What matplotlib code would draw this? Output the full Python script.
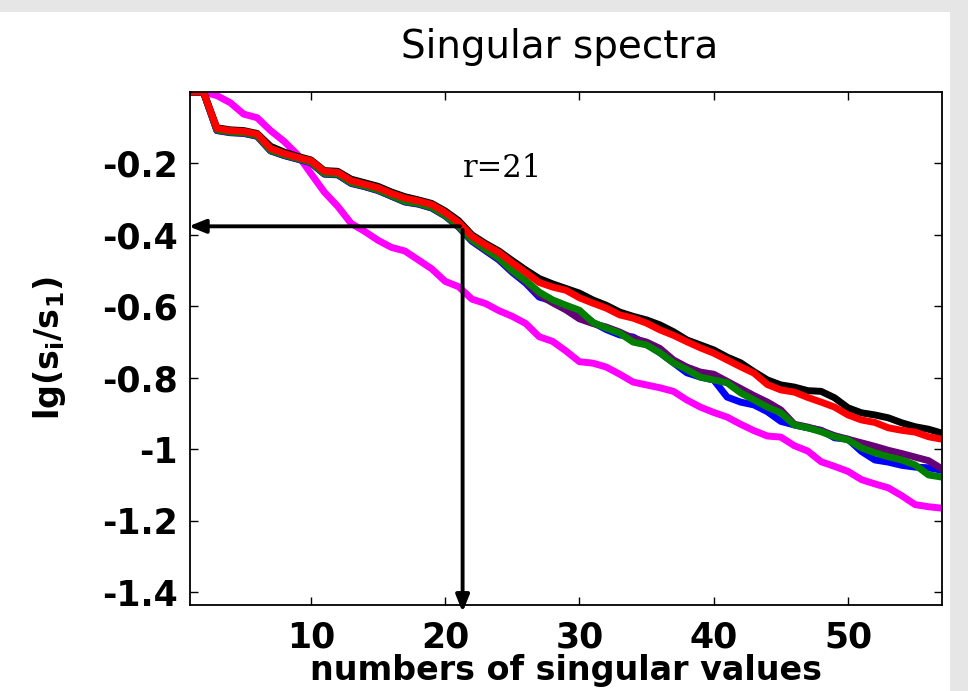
import numpy as np
import matplotlib
matplotlib.use("Agg")
import matplotlib.pyplot as plt
from matplotlib.patches import Rectangle

# singular value index
idx = np.arange(1, 58)

# lg(s_i/s_1), one list per curve
magenta = [0, 0, -0.01, -0.03, -0.062, -0.072, -0.108, -0.138, -0.175, -0.228,
           -0.28, -0.32, -0.368, -0.39, -0.415, -0.435, -0.445, -0.47, -0.495, -0.53,
           -0.545, -0.58, -0.592, -0.612, -0.628, -0.648, -0.685, -0.698, -0.725, -0.755,
           -0.759, -0.77, -0.79, -0.812, -0.82, -0.828, -0.838, -0.862, -0.882, -0.897,
           -0.91, -0.93, -0.948, -0.963, -0.966, -0.99, -1.005, -1.035, -1.048, -1.062,
           -1.085, -1.097, -1.108, -1.13, -1.155, -1.161, -1.165]
blue = [0, 0, -0.108, -0.114, -0.116, -0.124, -0.165, -0.178, -0.188, -0.198,
        -0.23, -0.232, -0.256, -0.265, -0.276, -0.292, -0.308, -0.314, -0.325, -0.347,
        -0.378, -0.418, -0.444, -0.47, -0.505, -0.535, -0.574, -0.585, -0.6, -0.615,
        -0.645, -0.665, -0.68, -0.686, -0.706, -0.73, -0.758, -0.786, -0.798, -0.806,
        -0.854, -0.868, -0.876, -0.895, -0.922, -0.932, -0.94, -0.947, -0.968, -0.972,
        -1.006, -1.03, -1.036, -1.045, -1.05, -1.052, -1.059]
purple = [0, 0, -0.107, -0.113, -0.115, -0.123, -0.164, -0.177, -0.187, -0.197,
          -0.229, -0.231, -0.255, -0.264, -0.275, -0.291, -0.307, -0.313, -0.324, -0.346,
          -0.377, -0.416, -0.442, -0.467, -0.502, -0.531, -0.568, -0.59, -0.61, -0.635,
          -0.648, -0.658, -0.672, -0.69, -0.7, -0.718, -0.75, -0.77, -0.784, -0.79,
          -0.81, -0.83, -0.85, -0.868, -0.89, -0.93, -0.938, -0.948, -0.962, -0.972,
          -0.982, -0.992, -1.003, -1.012, -1.022, -1.032, -1.055]
green = [0, 0, -0.106, -0.112, -0.114, -0.122, -0.163, -0.176, -0.186, -0.196,
         -0.228, -0.23, -0.254, -0.263, -0.274, -0.29, -0.306, -0.312, -0.323, -0.345,
         -0.376, -0.414, -0.44, -0.465, -0.5, -0.528, -0.56, -0.582, -0.597, -0.611,
         -0.645, -0.661, -0.675, -0.7, -0.708, -0.73, -0.758, -0.777, -0.798, -0.806,
         -0.814, -0.842, -0.862, -0.882, -0.898, -0.932, -0.94, -0.951, -0.965, -0.974,
         -0.996, -1.01, -1.021, -1.03, -1.044, -1.072, -1.078]
black = [0, 0, -0.1, -0.106, -0.108, -0.116, -0.152, -0.168, -0.18, -0.19,
         -0.22, -0.222, -0.244, -0.254, -0.264, -0.28, -0.293, -0.302, -0.312, -0.333,
         -0.36, -0.4, -0.424, -0.445, -0.472, -0.498, -0.522, -0.537, -0.55, -0.563,
         -0.582, -0.597, -0.616, -0.628, -0.638, -0.652, -0.671, -0.694, -0.708, -0.722,
         -0.742, -0.758, -0.783, -0.806, -0.82, -0.826, -0.836, -0.838, -0.856, -0.884,
         -0.898, -0.904, -0.912, -0.926, -0.937, -0.944, -0.955]
red = [0, 0, -0.102, -0.108, -0.11, -0.118, -0.158, -0.172, -0.183, -0.192,
       -0.222, -0.225, -0.248, -0.258, -0.268, -0.284, -0.297, -0.305, -0.315, -0.337,
       -0.365, -0.404, -0.428, -0.449, -0.478, -0.505, -0.533, -0.546, -0.555, -0.576,
       -0.591, -0.605, -0.624, -0.633, -0.647, -0.666, -0.681, -0.699, -0.716, -0.731,
       -0.75, -0.769, -0.787, -0.819, -0.834, -0.84, -0.855, -0.868, -0.882, -0.904,
       -0.918, -0.925, -0.94, -0.947, -0.952, -0.965, -0.972]

r_cut = 21.3      # where the arrows sit
lg_cut = -0.376

xticks = [10, 20, 30, 40, 50]
yticks = [-1.4, -1.2, -1, -0.8, -0.6, -0.4, -0.2]
ytick_labels = ["-1.4", "-1.2", "-1", "-0.8", "-0.6", "-0.4", "-0.2"]

#canvas
fig = plt.figure(figsize=(9.68, 6.91), dpi=100, facecolor="#e6e6e6")
fig.patches.append(Rectangle((0, 0), 950/968, 679/691, transform=fig.transFigure,
                             facecolor="white", edgecolor="none", zorder=-10))

ax = fig.add_axes([190/968, 86/691, 752/968, 513/691])

lw = 5.0
ax.plot(idx, magenta, color="#ff00ff", lw=lw)
ax.plot(idx, blue, color="#0000ff", lw=lw)
ax.plot(idx, purple, color="#660077", lw=lw)
ax.plot(idx, green, color="#007f00", lw=lw)
ax.plot(idx, black, color="black", lw=lw)
ax.plot(idx, red, color="#ff0000", lw=lw)

ax.set_xlim(1, 57)
ax.set_ylim(-1.436, 0)
ax.set_xticks(xticks)
ax.set_yticks(yticks)
ax.set_yticklabels(ytick_labels)
ax.tick_params(direction="in", length=6, width=1, top=True, right=True,
               labelsize=25, pad=9)
ax.tick_params(axis="x", pad=11)
for lab in ax.get_xticklabels() + ax.get_yticklabels():
    lab.set_fontweight("bold")
for sp in ax.spines.values():
    sp.set_linewidth(1.3)

ax.set_xlabel("numbers of singular values", fontsize=24, fontweight="bold", labelpad=0)
ax.set_ylabel(r"lg(s$_\mathbf{i}$/s$_\mathbf{1}$)", fontsize=24, fontweight="bold", labelpad=24)

fig.text(560/968, 1 - 47/691, "Singular spectra", fontsize=28, ha="center", va="center")

#arrows
arrow = dict(arrowstyle="-|>,head_length=1.0,head_width=0.4", color="black",
             lw=2.8, shrinkA=0, shrinkB=0)
ax.annotate("", xy=(0.9, lg_cut), xytext=(r_cut - 0.2, lg_cut),
            arrowprops=arrow, annotation_clip=False)
ax.annotate("", xy=(r_cut, -1.456), xytext=(r_cut, lg_cut - 0.01),
            arrowprops=arrow, annotation_clip=False)
ax.text(r_cut, -0.215, "r=21", family="DejaVu Serif", fontsize=22,
        ha="left", va="center")

fig.savefig("out.png", dpi=100, facecolor=fig.get_facecolor())
